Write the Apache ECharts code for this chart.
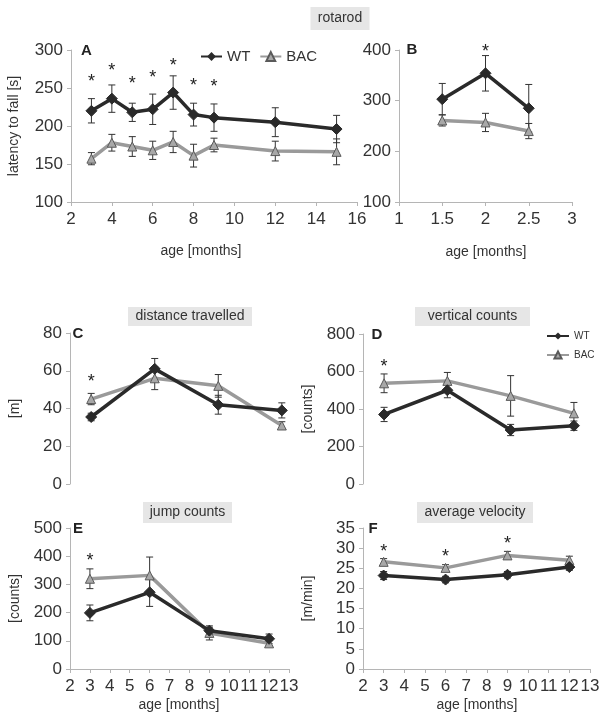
<!DOCTYPE html>
<html>
<head>
<meta charset="utf-8">
<script src="https://cdn.jsdelivr.net/npm/echarts@6/dist/echarts.min.js"></script>
<style>
html,body{margin:0;padding:0;background:#fff;}
#c{width:605px;height:727px;}
</style>
</head>
<body>
<div id="c"></div>
<script>
// ---- data ----
const agesA = [3, 4, 5, 6, 7, 8, 9, 12, 15];
const wtA = [220, 236, 218, 222, 244, 215, 211, 205, 196];
const wtAErr = [16, 18, 12, 20, 22, 15, 18, 19, 18];
const bacA = [157, 178, 173, 168, 179, 161, 175, 167, 166];
const bacAErr = [8, 11, 13, 12, 14, 15, 9, 13, 17];
const sigAx = [3, 4, 5, 6, 7, 8, 9];
const sigAy = [263, 278, 261, 268, 284, 258, 257];

const agesB = [1.5, 2, 2.5];
const wtB = [303, 354, 285];
const wtBErr = [31, 35, 47];
const bacB = [261, 257, 240];
const bacBErr = [11, 18, 15];
const sigBx = [2];
const sigBy = [403];

const agesOF = [3, 6, 9, 12];
const wtC = [35.5, 61, 42, 39];
const wtCErr = [2, 5.5, 5, 4];
const bacC = [45, 56, 52, 31];
const bacCErr = [3, 6, 6, 2];
const sigCx = [3];
const sigCy = [56];

const wtD = [371, 500, 288, 311];
const wtDErr = [38, 40, 30, 25];
const bacD = [537, 550, 470, 377];
const bacDErr = [50, 45, 108, 58];
const sigDx = [3];
const sigDy = [647];

const wtE = [199, 272, 136, 107];
const wtEErr = [28, 50, 12, 17];
const bacE = [320, 332, 128, 91];
const bacEErr = [35, 65, 25, 10];
const sigEx = [3];
const sigEy = [398];

const wtF = [23.2, 22.2, 23.4, 25.3];
const wtFErr = [1, 0.8, 0.8, 0.8];
const bacF = [26.6, 25.1, 28.2, 27];
const bacFErr = [0.8, 0.8, 1, 1];
const sigFx = [3, 6, 9];
const sigFy = [30, 28.7, 32];

// ---- styles ----
const FONT = 'Liberation Sans, Arial, sans-serif';
const TXT = '#333';
const AX = '#b5b5b5';
const WTC = '#2a2a2a';
const BACC = '#9a9a9a';

const grids = [
  {left: 71, top: 50, width: 286, height: 152},   // A
  {left: 399, top: 50, width: 173, height: 152},  // B
  {left: 70, top: 333, width: 233, height: 151},  // C
  {left: 363, top: 334, width: 232, height: 150}, // D
  {left: 70, top: 528, width: 219, height: 141},  // E
  {left: 363, top: 528, width: 227, height: 141}  // F
];

function xAx(i, min, max, interval, show) {
  return {
    type: 'value', gridIndex: i, min: min, max: max, interval: interval,
    axisLine: {show: show, lineStyle: {color: AX, width: 1}},
    axisTick: {show: show, length: 4, lineStyle: {color: AX}},
    axisLabel: {show: show, color: TXT, fontSize: 17, fontFamily: FONT, margin: 9},
    splitLine: {show: false}
  };
}
function yAx(i, min, max, interval, name) {
  return {
    type: 'value', gridIndex: i, min: min, max: max, interval: interval,
    name: name, nameLocation: 'middle', nameGap: name.length > 10 ? 50 : 48,
    nameTextStyle: {color: TXT, fontSize: 14, fontFamily: FONT},
    axisLine: {show: true, lineStyle: {color: AX, width: 1}},
    axisTick: {show: true, length: 4, lineStyle: {color: AX}},
    axisLabel: {color: TXT, fontSize: 17, fontFamily: FONT, margin: 8},
    splitLine: {show: false}
  };
}

function zip(xs, ys, es) {
  return xs.map((x, k) => es ? [x, ys[k], es[k]] : [x, ys[k]]);
}

function errRender(params, api) {
  const x = api.value(0), y = api.value(1), e = api.value(2);
  const t = api.coord([x, y + e]), b = api.coord([x, y - e]);
  const w = 3.5;
  const st = {stroke: '#333', lineWidth: 1};
  return {type: 'group', children: [
    {type: 'line', shape: {x1: t[0], y1: t[1], x2: b[0], y2: b[1]}, style: st},
    {type: 'line', shape: {x1: t[0] - w, y1: t[1], x2: t[0] + w, y2: t[1]}, style: st},
    {type: 'line', shape: {x1: b[0] - w, y1: b[1], x2: b[0] + w, y2: b[1]}, style: st}
  ]};
}
function starRender(params, api) {
  const p = api.coord([api.value(0), api.value(1)]);
  return {type: 'text', x: p[0], y: p[1] + 4, style: {
    text: '*', fill: '#222', font: '18px ' + FONT, textAlign: 'center', textVerticalAlign: 'middle'}};
}

const series = [];
function addPanel(i, ages, wt, wtE, bac, bacE, sx, sy) {
  series.push({type: 'custom', xAxisIndex: i, yAxisIndex: i, renderItem: errRender,
    data: zip(ages, bac, bacE), encode: {x: 0, y: 1}, z: 3, silent: true, clip: false});
  series.push({type: 'custom', xAxisIndex: i, yAxisIndex: i, renderItem: errRender,
    data: zip(ages, wt, wtE), encode: {x: 0, y: 1}, z: 3, silent: true, clip: false});
  series.push({name: 'BAC', type: 'line', xAxisIndex: i, yAxisIndex: i, data: zip(ages, bac),
    symbol: 'triangle', symbolSize: 9, z: 4,
    lineStyle: {color: BACC, width: 3.5},
    itemStyle: {color: '#a8a8a8', borderColor: '#5a5a5a', borderWidth: 1}});
  series.push({name: 'WT', type: 'line', xAxisIndex: i, yAxisIndex: i, data: zip(ages, wt),
    symbol: 'diamond', symbolSize: 11, z: 5,
    lineStyle: {color: WTC, width: 3.5},
    itemStyle: {color: WTC, borderColor: WTC}});
  series.push({type: 'custom', xAxisIndex: i, yAxisIndex: i, renderItem: starRender,
    data: zip(sx, sy), encode: {x: 0, y: 1}, z: 6, silent: true, clip: false});
}
addPanel(0, agesA, wtA, wtAErr, bacA, bacAErr, sigAx, sigAy);
addPanel(1, agesB, wtB, wtBErr, bacB, bacBErr, sigBx, sigBy);
addPanel(2, agesOF, wtC, wtCErr, bacC, bacCErr, sigCx, sigCy);
addPanel(3, agesOF, wtD, wtDErr, bacD, bacDErr, sigDx, sigDy);
addPanel(4, agesOF, wtE, wtEErr, bacE, bacEErr, sigEx, sigEy);
addPanel(5, agesOF, wtF, wtFErr, bacF, bacFErr, sigFx, sigFy);

function titleBox(cx, cy, w, h, text) {
  return {type: 'group', children: [
    {type: 'rect', shape: {x: cx - w / 2, y: cy - h / 2, width: w, height: h}, style: {fill: '#e6e6e6'}},
    {type: 'text', x: cx, y: cy, style: {text: text, fill: TXT, font: '14px ' + FONT, textAlign: 'center', textVerticalAlign: 'middle'}}
  ]};
}
function label(x, y, text, size, bold) {
  return {type: 'text', x: x, y: y, style: {text: text, fill: '#222',
    font: (bold ? 'bold ' : '') + size + 'px ' + FONT, textAlign: 'center', textVerticalAlign: 'middle'}};
}

const option = {
  animation: false,
  grid: grids,
  xAxis: [
    xAx(0, 2, 16, 2, true),
    xAx(1, 1, 3, 0.5, true),
    xAx(2, 2, 13, 1, false),
    xAx(3, 2, 13, 1, false),
    xAx(4, 2, 13, 1, true),
    xAx(5, 2, 13, 1, true)
  ],
  yAxis: [
    yAx(0, 100, 300, 50, 'latency to fall [s]'),
    yAx(1, 100, 400, 100, ''),
    yAx(2, 0, 80, 20, '[m]'),
    yAx(3, 0, 800, 200, '[counts]'),
    yAx(4, 0, 500, 100, '[counts]'),
    yAx(5, 0, 35, 5, '[m/min]')
  ],
  legend: [
    {data: ['WT', 'BAC'], left: 195, top: 44, itemWidth: 21, itemHeight: 11, itemGap: 9,
     textStyle: {color: TXT, fontSize: 15, fontFamily: FONT}, selectedMode: false},
    {data: ['WT', 'BAC'], orient: 'vertical', left: 541, top: 326, itemWidth: 22, itemHeight: 9, itemGap: 9,
     textStyle: {color: TXT, fontSize: 10, fontFamily: FONT}, selectedMode: false}
  ],
  graphic: [
    titleBox(340, 18.5, 59, 23, 'rotarod'),
    titleBox(190, 316.5, 124, 19, 'distance travelled'),
    titleBox(472.5, 316.5, 115, 19, 'vertical counts'),
    titleBox(187.5, 512.5, 89, 21, 'jump counts'),
    titleBox(475, 512.5, 116, 21, 'average velocity'),
    label(86.5, 51, 'A', 15, true),
    label(412, 50, 'B', 15, true),
    label(78, 334, 'C', 15, true),
    label(377, 335, 'D', 15, true),
    label(78, 529, 'E', 15, true),
    label(373, 529, 'F', 15, true),
    {type: 'text', x: 201, y: 251, style: {text: 'age [months]', fill: TXT, font: '14px ' + FONT, textAlign: 'center', textVerticalAlign: 'middle'}},
    {type: 'text', x: 486, y: 252, style: {text: 'age [months]', fill: TXT, font: '14px ' + FONT, textAlign: 'center', textVerticalAlign: 'middle'}},
    {type: 'text', x: 179, y: 705, style: {text: 'age [months]', fill: TXT, font: '14px ' + FONT, textAlign: 'center', textVerticalAlign: 'middle'}},
    {type: 'text', x: 477, y: 705, style: {text: 'age [months]', fill: TXT, font: '14px ' + FONT, textAlign: 'center', textVerticalAlign: 'middle'}}
  ],
  series: series
};

const chart = echarts.init(document.getElementById('c'), null, {renderer: 'canvas'});
chart.setOption(option);
</script>
</body>
</html>
